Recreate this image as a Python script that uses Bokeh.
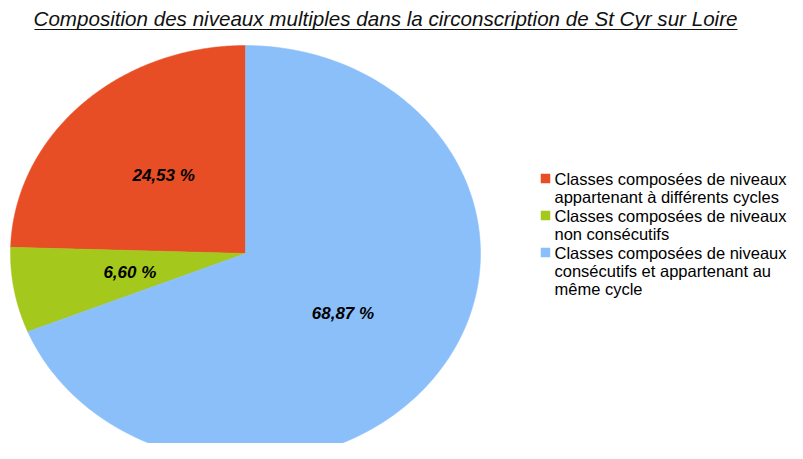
import numpy as np
from bokeh.plotting import figure
from bokeh.models import Range1d, ColumnDataSource
from bokeh.core.properties import value
from bokeh.embed import file_html
from bokeh.resources import INLINE

title = "Composition des niveaux multiples dans la circonscription de St Cyr sur Loire"
categories = [
    "Classes composées de niveaux\nappartenant à différents cycles",
    "Classes composées de niveaux\nnon consécutifs",
    "Classes composées de niveaux\nconsécutifs et appartenant au\nmême cycle",
]
percentages = [24.53, 6.60, 68.87]
colors = ["#E84E25", "#A4C81C", "#8BBFFA"]

W, H = 787, 443
p = figure(width=W, height=H, output_backend="svg", toolbar_location=None,
           x_range=Range1d(0, W), y_range=Range1d(H, 0),
           min_border=0)
p.axis.visible = False
p.grid.visible = False
p.outline_line_color = None
p.background_fill_color = "white"

# ellipse geometry (pixels)
cx, cy, rx, ry = 245, 253, 235, 208

vals = np.array(percentages)
ends = 90 + np.cumsum(vals) / 100 * 360
starts = np.concatenate([[90], ends[:-1]])
xs, ys, lx, ly = [], [], [], []
for a0, a1 in zip(starts, ends):
    t = np.radians(np.linspace(a0, a1, 200))
    xs.append(np.concatenate([[cx], cx + rx * np.cos(t)]))
    ys.append(np.concatenate([[cy], cy - ry * np.sin(t)]))
    m = np.radians((a0 + a1) / 2)
    lx.append(cx + 0.5 * rx * np.cos(m))
    ly.append(cy - 0.52 * ry * np.sin(m))

src = ColumnDataSource(dict(xs=xs, ys=ys, color=colors, lx=lx, ly=ly,
                            lab=[f"{v:.2f}".replace(".", ",") + " %" for v in percentages]))
p.patches("xs", "ys", fill_color="color", line_color="color", line_width=0.5, source=src)
p.text("lx", "ly", text="lab", source=src, text_align="center", text_baseline="middle",
       text_font=value("Liberation Sans"), text_font_size="17px",
       text_font_style="bold italic", text_color="black")

# title with underline
p.text(x=[385], y=[18], text=[title], text_align="center", text_baseline="middle",
       text_font=value("Liberation Sans"), text_font_size="20.6px", text_font_style="italic",
       text_color="#111111")
p.segment(x0=[34], y0=[29], x1=[737], y1=[29], line_color="#111111", line_width=1.2)

# legend (custom)
leg_x, leg_y0, line_h = 554, 178, 16.5
y = leg_y0
sq_x, sq_y, tx, ty = [], [], [], []
for cat in categories:
    sq_x.append(leg_x - 9)
    sq_y.append(y)
    tx.append(leg_x)
    ty.append(y - 9)
    y += line_h * (cat.count("\n") + 1) + 4
p.rect(sq_x, sq_y, width=9.5, height=9.5, fill_color=colors, line_color=None)
p.text(tx, ty, text=categories, text_align="left", text_baseline="top",
       text_font=value("Liberation Sans"), text_font_size="16.5px", text_color="black",
       text_line_height=1.0)

open("out.html", "w").write(file_html(p, INLINE))
